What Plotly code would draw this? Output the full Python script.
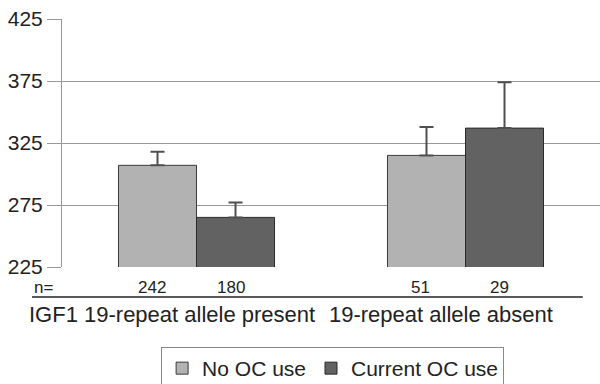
import plotly.graph_objects as go

groups = ["IGF1 19-repeat allele present", "19-repeat allele absent"]
series_names = ["No OC use", "Current OC use"]
no_oc = [307, 315]
no_oc_err = [11, 23]
cur_oc = [265, 337]
cur_oc_err = [12, 37]
n_no_oc = ["242", "51"]
n_cur_oc = ["180", "29"]
y_ticks = [225, 275, 325, 375, 425]

FONT = "Liberation Sans, Arial, sans-serif"
xpos = [0, 1]

fig = go.Figure()
fig.add_trace(go.Bar(
    x=xpos, y=no_oc, name=series_names[0],
    marker=dict(color="#b2b2b2", line=dict(color="#3a3a3a", width=1)),
    error_y=dict(type="data", array=no_oc_err, symmetric=False, arrayminus=[0, 0],
                 color="#505050", thickness=2, width=7),
))
fig.add_trace(go.Bar(
    x=xpos, y=cur_oc, name=series_names[1],
    marker=dict(color="#626262", line=dict(color="#2a2a2a", width=1)),
    error_y=dict(type="data", array=cur_oc_err, symmetric=False, arrayminus=[0, 0],
                 color="#505050", thickness=2, width=7),
))

half = 0.145
annotations = [dict(x=-0.0556, y=225, xref="paper", yref="y", yanchor="middle", yshift=-20,
                    text="n=", showarrow=False, xanchor="left",
                    font=dict(size=17, color="#222", family=FONT))]
for i, g in enumerate(groups):
    annotations.append(dict(x=xpos[i] - half, y=225, xref="x", yref="y", text=n_no_oc[i],
                            showarrow=False, yanchor="middle", yshift=-20, xshift=-6,
                            font=dict(size=17, color="#222", family=FONT)))
    annotations.append(dict(x=xpos[i] + half, y=225, xref="x", yref="y", text=n_cur_oc[i],
                            showarrow=False, yanchor="middle", yshift=-20, xshift=-5,
                            font=dict(size=17, color="#222", family=FONT)))
    annotations.append(dict(x=xpos[i], y=225, xref="x", yref="y", text=g,
                            showarrow=False, yanchor="middle", yshift=-47, xshift=-25,
                            font=dict(size=22, color="#222", family=FONT)))

fig.update_layout(
    width=600, height=384,
    margin=dict(l=62, r=0, t=19, b=117, autoexpand=False),
    paper_bgcolor="white", plot_bgcolor="white",
    barmode="group", bargap=0.42, bargroupgap=0,
    font=dict(family=FONT, color="#222"),
    xaxis=dict(range=[-0.5, 1.5], showticklabels=False, showgrid=False,
               zeroline=False, showline=False, ticks=""),
    yaxis=dict(range=[225, 425], tickvals=y_ticks, showgrid=True, gridcolor="#999999",
               gridwidth=1, zeroline=False, showline=True, linecolor="#999999",
               ticks="outside", ticklen=14, tickcolor="#999999",
               tickfont=dict(size=21, color="#222", family=FONT)),
    showlegend=True,
    legend=dict(orientation="h", x=0.503, xanchor="center", y=-0.3226, yanchor="top",
                bordercolor="#888888", borderwidth=1, itemwidth=30,
                font=dict(size=21, color="#222", family=FONT), traceorder="normal"),
    annotations=annotations,
    shapes=[dict(type="line", xref="paper", yref="paper", x0=-0.0558, x1=0.968,
                 y0=-0.121, y1=-0.121, line=dict(color="#222", width=1.5))],
)

fig.write_html("out.html", config={"displayModeBar": False},
               post_script="document.body.style.margin='0';document.body.style.overflow='hidden';")
